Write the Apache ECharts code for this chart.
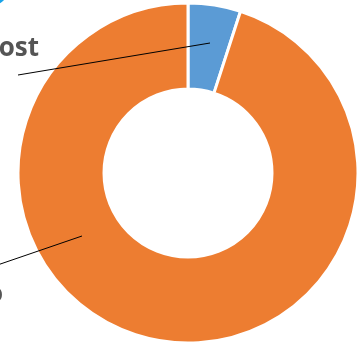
<!DOCTYPE html>
<html>
<head>
<meta charset="utf-8">
<script src="https://cdn.jsdelivr.net/npm/echarts@6/dist/echarts.min.js"></script>
<style>
html,body{margin:0;padding:0;background:#fff;}
#c{width:360px;height:347px;}
</style>
</head>
<body>
<div id="c"></div>
<script>
const categories = ['Lost', 'Solo'];
const values = [5, 95];
const colors = ['#5B9BD5', '#ED7D31'];

const chart = echarts.init(document.getElementById('c'), null, {renderer: 'canvas'});

const labelSpots = [
  {x: 39, y: 49, line: [[18, 75], [210, 43]]},
  {x: 3, y: 295, line: [[-20, 271], [82, 236]]}
];

const pieBase = {
  type: 'pie',
  center: [188, 173],
  radius: [84, 170],
  startAngle: 90,
  clockwise: true,
  avoidLabelOverlap: false
};

chart.setOption({
  animation: false,
  backgroundColor: '#ffffff',
  graphic: [{
    type: 'circle',
    shape: {cx: -6, cy: -9, r: 12},
    style: {fill: 'none', stroke: '#1AA3E8', lineWidth: 3}
  }],
  series: [
    Object.assign({}, pieBase, {
      z: 2,
      itemStyle: {borderColor: '#ffffff', borderWidth: 3},
      label: {show: false},
      labelLine: {show: false},
      data: categories.map((c, i) => ({name: c, value: values[i], itemStyle: {color: colors[i]}}))
    }),
    Object.assign({}, pieBase, {
      z: 5,
      silent: true,
      itemStyle: {color: 'rgba(0,0,0,0)', borderWidth: 0},
      label: {
        show: true,
        formatter: '{b}',
        color: '#555555',
        fontFamily: 'Open Sans',
        fontWeight: 'bold',
        fontSize: 26
      },
      labelLine: {show: true, lineStyle: {color: '#000000', width: 1}},
      labelLayout: function (params) {
        const s = labelSpots[params.dataIndex];
        return {x: s.x, y: s.y, align: 'right', verticalAlign: 'middle', labelLinePoints: s.line};
      },
      data: categories.map((c, i) => ({name: c, value: values[i]}))
    })
  ]
});
</script>
</body>
</html>
